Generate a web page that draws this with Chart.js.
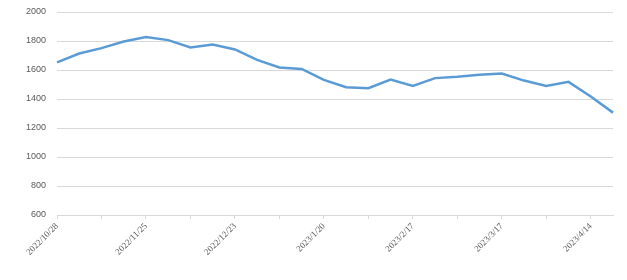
<!DOCTYPE html>
<html>
<head>
<meta charset="utf-8">
<script src="https://cdn.jsdelivr.net/npm/chart.js@4/dist/chart.umd.min.js"></script>
<style>
html,body{margin:0;padding:0;background:#fff;}
#wrap{width:627px;height:280px;position:relative;}
</style>
</head>
<body>
<div id="wrap"><canvas id="c" width="627" height="280"></canvas></div>
<script>
const categories = ["2022/10/28","2022/11/4","2022/11/11","2022/11/18","2022/11/25","2022/12/2","2022/12/9","2022/12/16","2022/12/23","2022/12/30","2023/1/6","2023/1/13","2023/1/20","2023/1/27","2023/2/3","2023/2/10","2023/2/17","2023/2/24","2023/3/3","2023/3/10","2023/3/17","2023/3/24","2023/3/31","2023/4/7","2023/4/14","2023/4/21"];
const values = [1652,1714,1751,1797,1827,1806,1756,1776,1742,1670,1617,1607,1532,1481,1474,1534,1490,1544,1553,1567,1576,1527,1490,1518,1417,1306];
const yTicks = [600,800,1000,1200,1400,1600,1800,2000];

new Chart(document.getElementById('c'), {
  type: 'line',
  data: {
    labels: categories,
    datasets: [{
      data: values,
      borderColor: '#5B9BD5',
      borderWidth: 2.5,
      pointRadius: 0,
      tension: 0,
      fill: false
    }]
  },
  options: {
    responsive: false,
    animation: false,
    devicePixelRatio: 1,
    layout: { padding: { top: 12, right: 14, left: 0, bottom: 0 } },
    plugins: { legend: { display: false }, tooltip: { enabled: false } },
    scales: {
      x: {
        offset: false,
        grid: {
          drawOnChartArea: false,
          drawTicks: true,
          tickLength: 4,
          color: (ctx) => (ctx.index % 2 === 0 ? '#d9d9d9' : 'rgba(0,0,0,0)')
        },
        border: { display: true, color: '#d9d9d9', width: 1 },
        ticks: {
          autoSkip: false,
          maxRotation: 45,
          minRotation: 45,
          padding: 2,
          color: '#595959',
          font: { family: 'Liberation Serif', size: 9 },
          callback: function(v, i) { return i % 4 === 0 ? categories[i] : ''; }
        },
        afterFit: (s) => { s.height = 65; }
      },
      y: {
        min: 600,
        max: 2000,
        afterBuildTicks: (s) => { s.ticks = yTicks.map(v => ({ value: v })); },
        grid: { color: '#d9d9d9', lineWidth: 1, drawTicks: false },
        border: { display: false },
        ticks: {
          padding: 11,
          color: '#595959',
          font: { family: 'Liberation Sans', size: 9 },
          callback: (v) => String(v)
        },
        afterFit: (s) => { s.width = 57; s.paddingTop = 0; s.paddingBottom = 0; }
      }
    }
  }
});
</script>
</body>
</html>
